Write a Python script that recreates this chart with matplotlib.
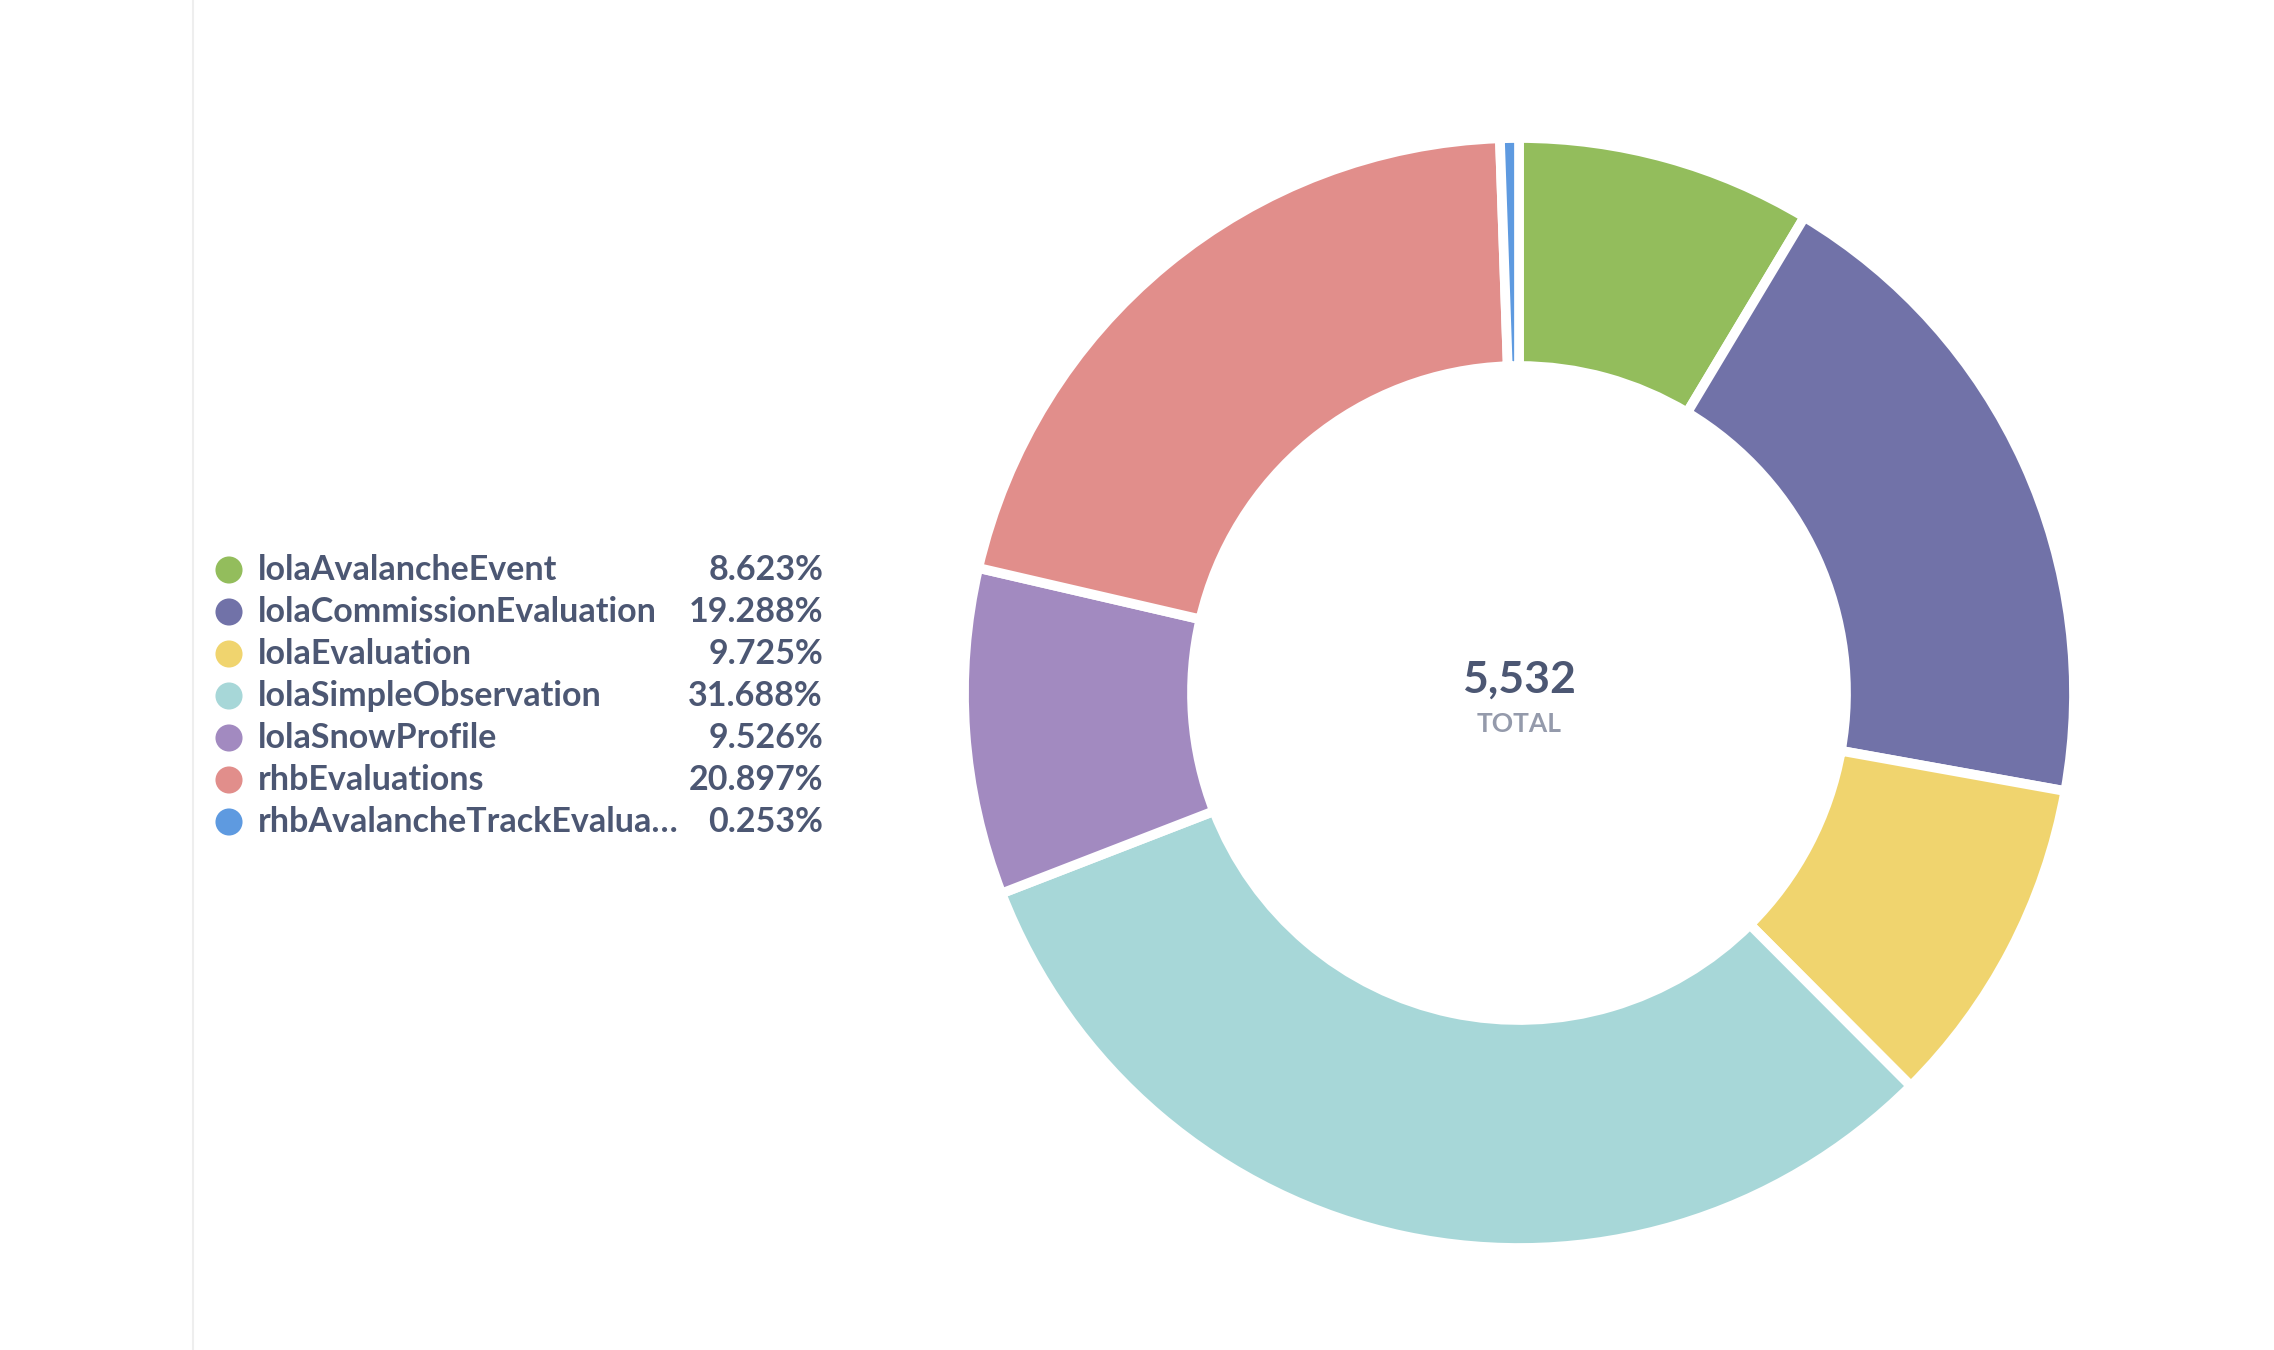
import matplotlib.pyplot as plt

# Data
categories = ['lolaAvalancheEvent', 'lolaCommissionEvaluation', 'lolaEvaluation',
              'lolaSimpleObservation', 'lolaSnowProfile', 'rhbEvaluations',
              'rhbAvalancheTrackEvalua…']
counts = [477, 1067, 538, 1753, 527, 1156, 14]
percent_labels = ['8.623%', '19.288%', '9.725%', '31.688%', '9.526%', '20.897%', '0.253%']
colors = ['#93BD5C', '#7172A8', '#F0D46E', '#A7D7D8', '#A28AC0', '#E18E8B', '#5E9AE0']
total = sum(counts)

# tiny slices get a minimum display size so they stay visible (like the original)
min_frac = 0.0055
display_counts = [max(c, total * min_frac) for c in counts]

W, H = 2274, 1350
fig = plt.figure(figsize=(W / 100, H / 100), dpi=100)
ax = fig.add_axes([0, 0, 1, 1])

# donut
ax.pie(display_counts, colors=colors, startangle=90, counterclock=False,
       center=(1519, H - 693), radius=555,
       wedgeprops=dict(width=228, edgecolor='white', linewidth=7))
ax.set_xlim(0, W)
ax.set_ylim(0, H)
ax.set_aspect('auto')
ax.axis('off')

ax.text(1519, H - 680, f'{total:,}', ha='center', va='center', fontsize=32,
        fontfamily='Lato', fontweight='bold', color='#4C5773')
ax.text(1519, H - 724, 'TOTAL', ha='center', va='center', fontsize=19,
        fontfamily='Lato', fontweight='bold', color='#949AAB')

# thin divider line on the left
ax.plot([193, 193], [0, H], color='#EEEEEE', linewidth=1.5)

# legend
y0 = 570
for i, (name, pct, c) in enumerate(zip(categories, percent_labels, colors)):
    y = H - (y0 + 42 * i)
    ax.scatter([229], [y], s=380, color=c, edgecolors='none')
    ax.text(258, y, name, ha='left', va='center', fontsize=24.5,
            fontfamily='Lato', fontweight='bold', color='#4C5773')
    ax.text(823, y, pct, ha='right', va='center', fontsize=24.5,
            fontfamily='Lato', fontweight='bold', color='#4C5773')

fig.savefig('out.png', dpi=100, facecolor='white')
